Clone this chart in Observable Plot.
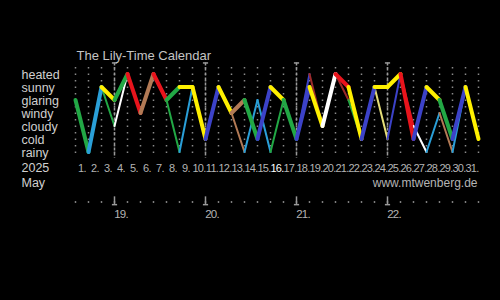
<!DOCTYPE html>
<html><head><meta charset="utf-8">
<script src="https://cdn.jsdelivr.net/npm/d3@7"></script>
<script src="https://cdn.jsdelivr.net/npm/@observablehq/plot@0.6"></script>
<style>
html,body{margin:0;padding:0;background:#000;}
#chart svg{display:block;background:#000}
</style></head><body><div id="chart"></div>
<script>
const title = "The Lily-Time Calendar";
const yearLabel = "2025";
const monthLabel = "May";
const credit = "www.mtwenberg.de";
const categories = ["heated","sunny","glaring","windy","cloudy","cold","rainy"];
const days = [1,2,3,4,5,6,7,8,9,10,11,12,13,14,15,16,17,18,19,20,21,22,23,24,25,26,27,28,29,30,31];
const highlightDay = 16;
const weekNumbers = [19,20,21,22];
const weekStartDays = [4,11,18,25];

// state at each day boundary (32 values) and colour of each day segment (31)
const mainStates = ["glaring","rainy","sunny","glaring","heated","windy","heated","glaring","sunny","sunny","cold","sunny","windy","glaring","cold","sunny","glaring","cold","sunny","cloudy","heated","sunny","cold","sunny","sunny","heated","cold","sunny","glaring","cold","sunny","cold"];
const mainColors = ["green","lightblue","yellow","green","red","brown","red","green","yellow","yellow","darkblue","yellow","brown","green","darkblue","yellow","green","darkblue","yellow","white","red","yellow","darkblue","yellow","yellow","red","darkblue","yellow","green","darkblue","yellow"];
const altStates = ["glaring","rainy","sunny","cloudy","heated","windy","heated","glaring","rainy","sunny","cold","sunny","windy","rainy","glaring","rainy","glaring","cold","heated","cloudy","heated","glaring","cold","sunny","cold","heated","cloudy","rainy","windy","rainy","sunny","cold"];
const altColors = ["green","lightblue","green","white","red","brown","red","green","lightblue","yellow","darkblue","yellow","brown","lightblue","lightblue","green","green","darkblue","darkred","white","darkred","green","darkblue","khaki","darkblue","red","white","lightblue","brown","lightblue","yellow"];

const palette = {green:"#22a845", lightblue:"#2a9fd8", yellow:"#fff000", red:"#e8141c", brown:"#b27a55", white:"#ffffff", darkblue:"#3c42c8", darkred:"#9c2a2a", khaki:"#e6de78"};

const idx = c => categories.indexOf(c);
const segs = (states, colors) => colors.map((c, i) => ({x1: i, x2: i + 1, y1: idx(states[i]), y2: idx(states[i + 1]), color: palette[c]}));
const mainSegs = segs(mainStates, mainColors);
const altSegs = segs(altStates, altColors);
const boundaries = [0, ...days];
const font = "'Liberation Sans',Arial,sans-serif";

const chart = Plot.plot({
  width: 500, height: 300,
  marginLeft: 75, marginRight: 22, marginTop: 67, marginBottom: 142,
  style: {background: "#000", fontFamily: font},
  x: {domain: [0, 31], range: [75, 478], axis: null},
  y: {domain: [-0.5, 6.5], range: [67, 158], axis: null},
  marks: [
    Plot.ruleX(boundaries, {x: d => d, stroke: "#8a8a8a", strokeWidth: 1.5, strokeDasharray: "1.5,5"}),
    Plot.ruleX(weekStartDays, {x: d => d - 1, y1: -0.85, y2: 6.5, stroke: "#9a9a9a", strokeWidth: 1.5, strokeDasharray: "3,2"}),
    Plot.link(weekStartDays, {x1: d => d - 1.2, x2: d => d - 0.8, y1: -0.85, y2: -0.85, stroke: "#9a9a9a", strokeWidth: 1.5}),
    Plot.dot(boundaries, {x: d => d, frameAnchor: "bottom", dy: 43.5, r: 0.9, fill: "#8a8a8a"}),
    Plot.ruleX(weekStartDays, {x: d => d - 1, y1: 9.45, y2: 10.05, stroke: "#9a9a9a", strokeWidth: 1.5}),
    Plot.link(weekStartDays, {x1: d => d - 1.2, x2: d => d - 0.8, y1: 10.05, y2: 10.05, stroke: "#9a9a9a", strokeWidth: 1.5}),
    Plot.link(altSegs, {x1: "x1", y1: "y1", x2: "x2", y2: "y2", stroke: "color", strokeWidth: 2, strokeLinecap: "round"}),
    Plot.link(mainSegs, {x1: "x1", y1: "y1", x2: "x2", y2: "y2", stroke: "color", strokeWidth: 4, strokeLinecap: "round"}),
    Plot.text([title], {frameAnchor: "top-left", dx: 1, dy: -17, textAnchor: "start", fill: "#c4c4c4", fontSize: 13}),
    Plot.text(categories, {y: (d, i) => i, frameAnchor: "left", dx: -54, dy: 0.5, textAnchor: "start", fill: "#d0d0d0", fontSize: 12.5}),
    Plot.text(days, {x: d => d - 0.5, text: d => d + ".", frameAnchor: "bottom", dy: 13.5, fill: d => d === highlightDay ? "#ffffff" : "#b4b4b4", fontWeight: d => d === highlightDay ? "bold" : "normal", fontSize: 11}),
    Plot.text([yearLabel], {frameAnchor: "bottom-left", dx: -54, dy: 13.5, textAnchor: "start", fill: "#d0d0d0", fontSize: 12.5}),
    Plot.text([monthLabel], {frameAnchor: "bottom-left", dx: -54, dy: 28.5, textAnchor: "start", fill: "#d0d0d0", fontSize: 12.5}),
    Plot.text([credit], {frameAnchor: "bottom-right", dx: -1, dy: 28.5, textAnchor: "end", fill: "#b4b4b4", fontSize: 12}),
    Plot.text(weekNumbers, {x: (d, i) => weekStartDays[i] - 0.5, text: d => d + ".", frameAnchor: "bottom", dy: 59, fill: "#b4b4b4", fontSize: 11.5})
  ]
});
const textGroups = chart.querySelectorAll('g[aria-label="text"]');
if (textGroups[2]) textGroups[2].style.letterSpacing = "-0.7px";
if (textGroups[6]) textGroups[6].style.letterSpacing = "-0.8px";
document.getElementById("chart").append(chart);
</script></body></html>
